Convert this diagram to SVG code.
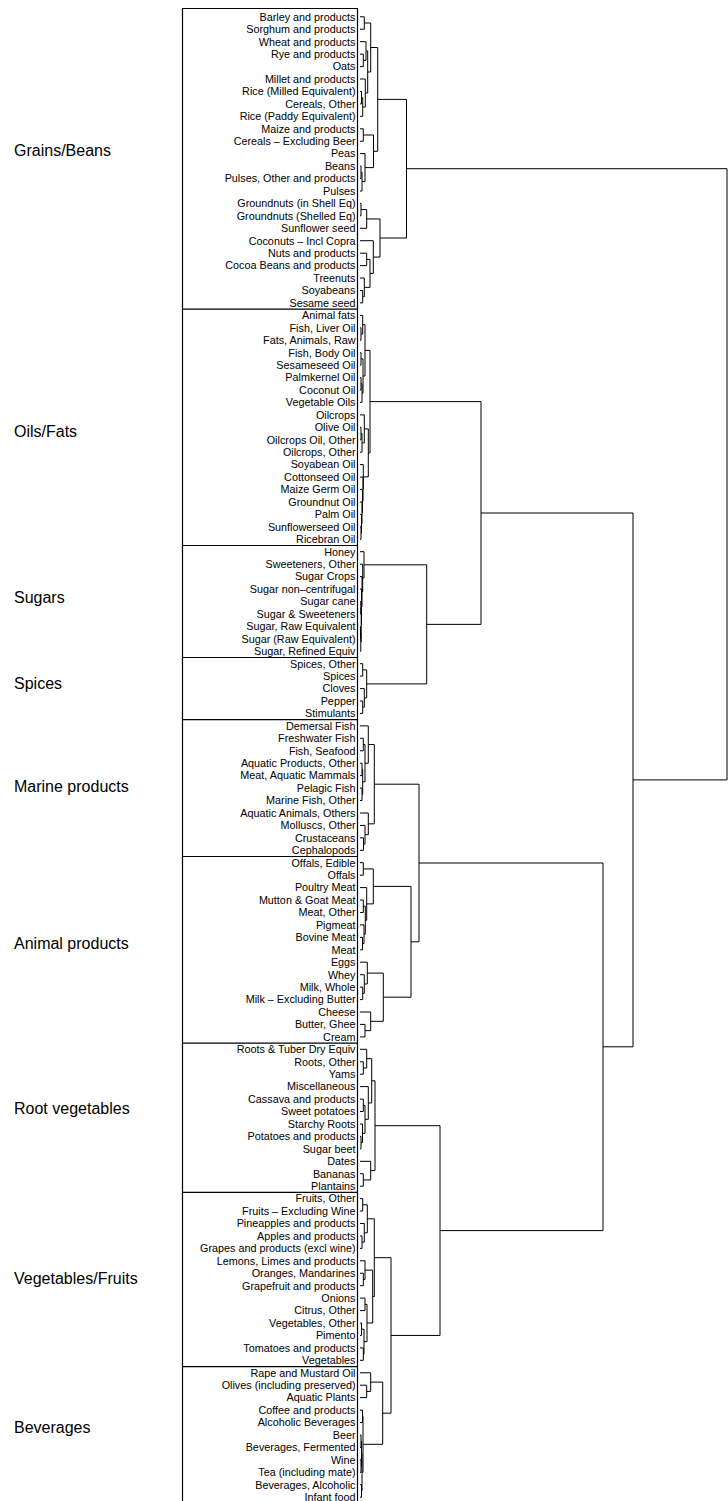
<svg xmlns="http://www.w3.org/2000/svg" width="728" height="1501" viewBox="0 0 728 1501">
<style>
.l{font-family:"Liberation Sans",Arial,sans-serif;font-size:10.8px;text-anchor:end;fill:#000}
.g{font-family:"Liberation Sans",Arial,sans-serif;font-size:16px;fill:#000}
.e{fill:none;stroke:#000;stroke-width:1}
.f{fill:none;stroke:#000;stroke-width:1.2}
</style>
<rect width="728" height="1501" fill="#fff"/>
<g id="frame">
<path class="f" d="M182.5 1501V8.5H357.5V1501"/>
<path class="f" d="M182.5 309.1H357.5M182.5 545.5H357.5M182.5 657.5H357.5M182.5 719.7H357.5M182.5 856.5H357.5M182.5 1043.1H357.5M182.5 1192.4H357.5M182.5 1366.6H357.5"/>
</g>
<g id="groups">
<g id="grp-grains"><text class="g" x="14" y="156">Grains/Beans</text></g>
<g id="grp-oils"><text class="g" x="14" y="437">Oils/Fats</text></g>
<g id="grp-sugars"><text class="g" x="14" y="603">Sugars</text></g>
<g id="grp-spices"><text class="g" x="14" y="689">Spices</text></g>
<g id="grp-marine"><text class="g" x="14" y="792">Marine products</text></g>
<g id="grp-animal"><text class="g" x="14" y="949">Animal products</text></g>
<g id="grp-root"><text class="g" x="14" y="1114">Root vegetables</text></g>
<g id="grp-veg"><text class="g" x="14" y="1284">Vegetables/Fruits</text></g>
<g id="grp-bev"><text class="g" x="14" y="1433">Beverages</text></g>
</g>
<g id="leaves">
<g id="n0"><text class="l" x="355.5" y="20.6">Barley and products</text></g>
<g id="n1"><text class="l" x="355.5" y="33.0">Sorghum and products</text></g>
<g id="n2"><text class="l" x="355.5" y="45.5">Wheat and products</text></g>
<g id="n3"><text class="l" x="355.5" y="57.9">Rye and products</text></g>
<g id="n4"><text class="l" x="355.5" y="70.4">Oats</text></g>
<g id="n5"><text class="l" x="355.5" y="82.8">Millet and products</text></g>
<g id="n6"><text class="l" x="355.5" y="95.2">Rice (Milled Equivalent)</text></g>
<g id="n7"><text class="l" x="355.5" y="107.7">Cereals, Other</text></g>
<g id="n8"><text class="l" x="355.5" y="120.1">Rice (Paddy Equivalent)</text></g>
<g id="n9"><text class="l" x="355.5" y="132.6">Maize and products</text></g>
<g id="n10"><text class="l" x="355.5" y="145.0">Cereals – Excluding Beer</text></g>
<g id="n11"><text class="l" x="355.5" y="157.4">Peas</text></g>
<g id="n12"><text class="l" x="355.5" y="169.9">Beans</text></g>
<g id="n13"><text class="l" x="355.5" y="182.3">Pulses, Other and products</text></g>
<g id="n14"><text class="l" x="355.5" y="194.8">Pulses</text></g>
<g id="n15"><text class="l" x="355.5" y="207.2">Groundnuts (in Shell Eq)</text></g>
<g id="n16"><text class="l" x="355.5" y="219.6">Groundnuts (Shelled Eq)</text></g>
<g id="n17"><text class="l" x="355.5" y="232.1">Sunflower seed</text></g>
<g id="n18"><text class="l" x="355.5" y="244.5">Coconuts – Incl Copra</text></g>
<g id="n19"><text class="l" x="355.5" y="257.0">Nuts and products</text></g>
<g id="n20"><text class="l" x="355.5" y="269.4">Cocoa Beans and products</text></g>
<g id="n21"><text class="l" x="355.5" y="281.8">Treenuts</text></g>
<g id="n22"><text class="l" x="355.5" y="294.3">Soyabeans</text></g>
<g id="n23"><text class="l" x="355.5" y="306.7">Sesame seed</text></g>
<g id="n24"><text class="l" x="355.5" y="319.2">Animal fats</text></g>
<g id="n25"><text class="l" x="355.5" y="331.6">Fish, Liver Oil</text></g>
<g id="n26"><text class="l" x="355.5" y="344.0">Fats, Animals, Raw</text></g>
<g id="n27"><text class="l" x="355.5" y="356.5">Fish, Body Oil</text></g>
<g id="n28"><text class="l" x="355.5" y="368.9">Sesameseed Oil</text></g>
<g id="n29"><text class="l" x="355.5" y="381.4">Palmkernel Oil</text></g>
<g id="n30"><text class="l" x="355.5" y="393.8">Coconut Oil</text></g>
<g id="n31"><text class="l" x="355.5" y="406.2">Vegetable Oils</text></g>
<g id="n32"><text class="l" x="355.5" y="418.7">Oilcrops</text></g>
<g id="n33"><text class="l" x="355.5" y="431.1">Olive Oil</text></g>
<g id="n34"><text class="l" x="355.5" y="443.6">Oilcrops Oil, Other</text></g>
<g id="n35"><text class="l" x="355.5" y="456.0">Oilcrops, Other</text></g>
<g id="n36"><text class="l" x="355.5" y="468.4">Soyabean Oil</text></g>
<g id="n37"><text class="l" x="355.5" y="480.9">Cottonseed Oil</text></g>
<g id="n38"><text class="l" x="355.5" y="493.3">Maize Germ Oil</text></g>
<g id="n39"><text class="l" x="355.5" y="505.8">Groundnut Oil</text></g>
<g id="n40"><text class="l" x="355.5" y="518.2">Palm Oil</text></g>
<g id="n41"><text class="l" x="355.5" y="530.6">Sunflowerseed Oil</text></g>
<g id="n42"><text class="l" x="355.5" y="543.1">Ricebran Oil</text></g>
<g id="n43"><text class="l" x="355.5" y="555.5">Honey</text></g>
<g id="n44"><text class="l" x="355.5" y="568.0">Sweeteners, Other</text></g>
<g id="n45"><text class="l" x="355.5" y="580.4">Sugar Crops</text></g>
<g id="n46"><text class="l" x="355.5" y="592.8">Sugar non–centrifugal</text></g>
<g id="n47"><text class="l" x="355.5" y="605.3">Sugar cane</text></g>
<g id="n48"><text class="l" x="355.5" y="617.7">Sugar &amp; Sweeteners</text></g>
<g id="n49"><text class="l" x="355.5" y="630.2">Sugar, Raw Equivalent</text></g>
<g id="n50"><text class="l" x="355.5" y="642.6">Sugar (Raw Equivalent)</text></g>
<g id="n51"><text class="l" x="355.5" y="655.0">Sugar, Refined Equiv</text></g>
<g id="n52"><text class="l" x="355.5" y="667.5">Spices, Other</text></g>
<g id="n53"><text class="l" x="355.5" y="679.9">Spices</text></g>
<g id="n54"><text class="l" x="355.5" y="692.4">Cloves</text></g>
<g id="n55"><text class="l" x="355.5" y="704.8">Pepper</text></g>
<g id="n56"><text class="l" x="355.5" y="717.2">Stimulants</text></g>
<g id="n57"><text class="l" x="355.5" y="729.7">Demersal Fish</text></g>
<g id="n58"><text class="l" x="355.5" y="742.1">Freshwater Fish</text></g>
<g id="n59"><text class="l" x="355.5" y="754.6">Fish, Seafood</text></g>
<g id="n60"><text class="l" x="355.5" y="767.0">Aquatic Products, Other</text></g>
<g id="n61"><text class="l" x="355.5" y="779.4">Meat, Aquatic Mammals</text></g>
<g id="n62"><text class="l" x="355.5" y="791.9">Pelagic Fish</text></g>
<g id="n63"><text class="l" x="355.5" y="804.3">Marine Fish, Other</text></g>
<g id="n64"><text class="l" x="355.5" y="816.8">Aquatic Animals, Others</text></g>
<g id="n65"><text class="l" x="355.5" y="829.2">Molluscs, Other</text></g>
<g id="n66"><text class="l" x="355.5" y="841.6">Crustaceans</text></g>
<g id="n67"><text class="l" x="355.5" y="854.1">Cephalopods</text></g>
<g id="n68"><text class="l" x="355.5" y="866.5">Offals, Edible</text></g>
<g id="n69"><text class="l" x="355.5" y="879.0">Offals</text></g>
<g id="n70"><text class="l" x="355.5" y="891.4">Poultry Meat</text></g>
<g id="n71"><text class="l" x="355.5" y="903.8">Mutton &amp; Goat Meat</text></g>
<g id="n72"><text class="l" x="355.5" y="916.3">Meat, Other</text></g>
<g id="n73"><text class="l" x="355.5" y="928.7">Pigmeat</text></g>
<g id="n74"><text class="l" x="355.5" y="941.2">Bovine Meat</text></g>
<g id="n75"><text class="l" x="355.5" y="953.6">Meat</text></g>
<g id="n76"><text class="l" x="355.5" y="966.0">Eggs</text></g>
<g id="n77"><text class="l" x="355.5" y="978.5">Whey</text></g>
<g id="n78"><text class="l" x="355.5" y="990.9">Milk, Whole</text></g>
<g id="n79"><text class="l" x="355.5" y="1003.4">Milk – Excluding Butter</text></g>
<g id="n80"><text class="l" x="355.5" y="1015.8">Cheese</text></g>
<g id="n81"><text class="l" x="355.5" y="1028.2">Butter, Ghee</text></g>
<g id="n82"><text class="l" x="355.5" y="1040.7">Cream</text></g>
<g id="n83"><text class="l" x="355.5" y="1053.1">Roots &amp; Tuber Dry Equiv</text></g>
<g id="n84"><text class="l" x="355.5" y="1065.6">Roots, Other</text></g>
<g id="n85"><text class="l" x="355.5" y="1078.0">Yams</text></g>
<g id="n86"><text class="l" x="355.5" y="1090.4">Miscellaneous</text></g>
<g id="n87"><text class="l" x="355.5" y="1102.9">Cassava and products</text></g>
<g id="n88"><text class="l" x="355.5" y="1115.3">Sweet potatoes</text></g>
<g id="n89"><text class="l" x="355.5" y="1127.8">Starchy Roots</text></g>
<g id="n90"><text class="l" x="355.5" y="1140.2">Potatoes and products</text></g>
<g id="n91"><text class="l" x="355.5" y="1152.6">Sugar beet</text></g>
<g id="n92"><text class="l" x="355.5" y="1165.1">Dates</text></g>
<g id="n93"><text class="l" x="355.5" y="1177.5">Bananas</text></g>
<g id="n94"><text class="l" x="355.5" y="1190.0">Plantains</text></g>
<g id="n95"><text class="l" x="355.5" y="1202.4">Fruits, Other</text></g>
<g id="n96"><text class="l" x="355.5" y="1214.8">Fruits – Excluding Wine</text></g>
<g id="n97"><text class="l" x="355.5" y="1227.3">Pineapples and products</text></g>
<g id="n98"><text class="l" x="355.5" y="1239.7">Apples and products</text></g>
<g id="n99"><text class="l" x="355.5" y="1252.2">Grapes and products (excl wine)</text></g>
<g id="n100"><text class="l" x="355.5" y="1264.6">Lemons, Limes and products</text></g>
<g id="n101"><text class="l" x="355.5" y="1277.0">Oranges, Mandarines</text></g>
<g id="n102"><text class="l" x="355.5" y="1289.5">Grapefruit and products</text></g>
<g id="n103"><text class="l" x="355.5" y="1301.9">Onions</text></g>
<g id="n104"><text class="l" x="355.5" y="1314.4">Citrus, Other</text></g>
<g id="n105"><text class="l" x="355.5" y="1326.8">Vegetables, Other</text></g>
<g id="n106"><text class="l" x="355.5" y="1339.2">Pimento</text></g>
<g id="n107"><text class="l" x="355.5" y="1351.7">Tomatoes and products</text></g>
<g id="n108"><text class="l" x="355.5" y="1364.1">Vegetables</text></g>
<g id="n109"><text class="l" x="355.5" y="1376.6">Rape and Mustard Oil</text></g>
<g id="n110"><text class="l" x="355.5" y="1389.0">Olives (including preserved)</text></g>
<g id="n111"><text class="l" x="355.5" y="1401.4">Aquatic Plants</text></g>
<g id="n112"><text class="l" x="355.5" y="1413.9">Coffee and products</text></g>
<g id="n113"><text class="l" x="355.5" y="1426.3">Alcoholic Beverages</text></g>
<g id="n114"><text class="l" x="355.5" y="1438.8">Beer</text></g>
<g id="n115"><text class="l" x="355.5" y="1451.2">Beverages, Fermented</text></g>
<g id="n116"><text class="l" x="355.5" y="1463.6">Wine</text></g>
<g id="n117"><text class="l" x="355.5" y="1476.1">Tea (including mate)</text></g>
<g id="n118"><text class="l" x="355.5" y="1488.5">Beverages, Alcoholic</text></g>
<g id="n119"><text class="l" x="355.5" y="1501.0">Infant food</text></g>
</g>
<g id="connectors" class="e">
<path d="M360 16.8H364.3V29.2H360"/>
<path d="M360 54.1H363.3V66.6H360"/>
<path d="M360 41.7H366V60.35H363.3"/>
<path d="M360 91.4H361.5V103.9H360"/>
<path d="M361.5 97.65H362.7V116.3H360"/>
<path d="M360 79H365.3V107H362.7"/>
<path d="M366 51H367.7V93H365.3"/>
<path d="M364.3 23H370.7V72H367.7"/>
<path d="M360 128.8H363.3V141.2H360"/>
<path d="M360 166.1H361V178.5H360"/>
<path d="M361 172.3H362V191H360"/>
<path d="M360 153.6H365V181.65H362"/>
<path d="M363.3 135H373.5V167.6H365"/>
<path d="M370.7 47.5H377.7V151.3H373.5"/>
<path d="M360 203.4H361V215.8H360"/>
<path d="M361 209.6H366.7V228.3H360"/>
<path d="M360 253.2H366.7V265.6H360"/>
<path d="M360 290.5H362.7V302.9H360"/>
<path d="M360 278H364.3V296.7H362.7"/>
<path d="M366.7 259.4H370V287.35H364.3"/>
<path d="M360 240.7H373.3V273.4H370"/>
<path d="M366.7 218.95H380V257.05H373.3"/>
<path d="M377.7 99.4H406.5V238H380"/>
<path d="M360 327.8H361V340.2H360"/>
<path d="M360 315.4H362.7V334H361"/>
<path d="M360 352.7H361V365.1H360"/>
<path d="M360 377.6H361V390H360"/>
<path d="M361 383.8H362V402.4H360"/>
<path d="M361 358.9H363V393.1H362"/>
<path d="M362.7 324.7H365V376H363"/>
<path d="M360 427.3H361V439.8H360"/>
<path d="M361 433.55H362V452.2H360"/>
<path d="M360 414.9H364.3V442.9H362"/>
<path d="M360 526.8H361V539.3H360"/>
<path d="M360 514.4H361.5V533.05H361"/>
<path d="M360 502H362V523.7H361.5"/>
<path d="M360 489.5H362.5V512.85H362"/>
<path d="M360 477.1H363V501.2H362.5"/>
<path d="M360 464.6H363.3V489.15H363"/>
<path d="M364.3 428.9H368.3V476.9H363.3"/>
<path d="M365 350.35H370V452.9H368.3"/>
<path d="M360 601.5H360.8V613.9H360"/>
<path d="M360 626.4H360.5V638.8H360"/>
<path d="M360.5 632.6H360.8V651.2H360"/>
<path d="M360.8 607.7H361.2V641.9H360.8"/>
<path d="M360 589H361.5V624.8H361.2"/>
<path d="M360 576.6H362V606.9H361.5"/>
<path d="M360 564.2H362.7V591.75H362"/>
<path d="M360 551.7H364V577.98H362.7"/>
<path d="M360 663.7H362.7V676.1H360"/>
<path d="M360 701H362.7V713.4H360"/>
<path d="M360 688.6H364.3V707.2H362.7"/>
<path d="M362.7 669.9H366.7V697.9H364.3"/>
<path d="M364 564.84H426.7V683.9H366.7"/>
<path d="M370 401.6H481V624.37H426.7"/>
<path d="M360 738.3H363.3V750.8H360"/>
<path d="M360 763.2H362V775.6H360"/>
<path d="M360 788.1H362V800.5H360"/>
<path d="M362 769.4H362.7V794.3H362"/>
<path d="M363.3 744.55H365V781.85H362.7"/>
<path d="M360 725.9H368.3V763.2H365"/>
<path d="M360 837.8H363.5V850.3H360"/>
<path d="M360 825.4H365V844.05H363.5"/>
<path d="M360 813H368.3V834.7H365"/>
<path d="M368.3 744.55H374.3V823.85H368.3"/>
<path d="M360 862.7H363.3V875.2H360"/>
<path d="M360 900H363.3V912.5H360"/>
<path d="M360 937.4H362.5V949.8H360"/>
<path d="M360 924.9H364V943.6H362.5"/>
<path d="M363.3 906.25H365.3V934.25H364"/>
<path d="M360 887.6H366.7V920.25H365.3"/>
<path d="M363.3 868.95H373.3V903.9H366.7"/>
<path d="M360 987.1H362.7V999.6H360"/>
<path d="M360 974.7H364.3V993.35H362.7"/>
<path d="M360 962.2H367.3V984H364.3"/>
<path d="M360 1024.4H365V1036.9H360"/>
<path d="M360 1012H370.7V1030.65H365"/>
<path d="M367.3 973.1H383.3V1021.3H370.7"/>
<path d="M373.3 886.4H411V997.2H383.3"/>
<path d="M374.3 784.2H419V941.8H411"/>
<path d="M360 1061.8H363.3V1074.2H360"/>
<path d="M360 1049.3H366.7V1068H363.3"/>
<path d="M360 1099.1H363.3V1111.5H360"/>
<path d="M360 1136.4H361V1148.8H360"/>
<path d="M360 1124H362.5V1142.6H361"/>
<path d="M363.3 1105.3H365V1133.3H362.5"/>
<path d="M360 1086.6H368.3V1119.3H365"/>
<path d="M366.7 1058.65H371.7V1102.95H368.3"/>
<path d="M360 1173.7H363.3V1186.2H360"/>
<path d="M360 1161.3H370.7V1179.95H363.3"/>
<path d="M371.7 1080.8H375V1170.6H370.7"/>
<path d="M360 1198.6H362.7V1211H360"/>
<path d="M360 1235.9H362V1248.4H360"/>
<path d="M360 1223.5H364.3V1242.15H362"/>
<path d="M362.7 1204.8H367.3V1232.8H364.3"/>
<path d="M360 1273.2H363.3V1285.7H360"/>
<path d="M360 1260.8H365V1279.45H363.3"/>
<path d="M360 1298.1H365V1310.6H360"/>
<path d="M360 1323H361.5V1335.4H360"/>
<path d="M360 1347.9H363.3V1360.3H360"/>
<path d="M361.5 1329.2H364V1354.1H363.3"/>
<path d="M365 1304.35H367V1341.65H364"/>
<path d="M365 1270.1H372.7V1323H367"/>
<path d="M367.3 1218.8H374.3V1296.55H372.7"/>
<path d="M360 1385.2H366.7V1397.6H360"/>
<path d="M360 1372.8H370.7V1391.4H366.7"/>
<path d="M360 1410.1H362.5V1422.5H360"/>
<path d="M360 1435H361V1447.4H360"/>
<path d="M360 1459.8H361V1472.3H360"/>
<path d="M361 1441.2H361.5V1466.05H361"/>
<path d="M360 1484.7H361.5V1497.2H360"/>
<path d="M361.5 1453.6H362V1490.95H361.5"/>
<path d="M362.5 1416.3H363V1472.3H362"/>
<path d="M370.7 1382.1H382.7V1444.3H363"/>
<path d="M374.3 1257.7H391V1413.2H382.7"/>
<path d="M375 1125.7H440V1335.45H391"/>
<path d="M419 863H603V1230.6H440"/>
<path d="M481 513H633V1046.8H603"/>
<path d="M406.5 168.7H727V779.9H633"/>
</g>
</svg>
